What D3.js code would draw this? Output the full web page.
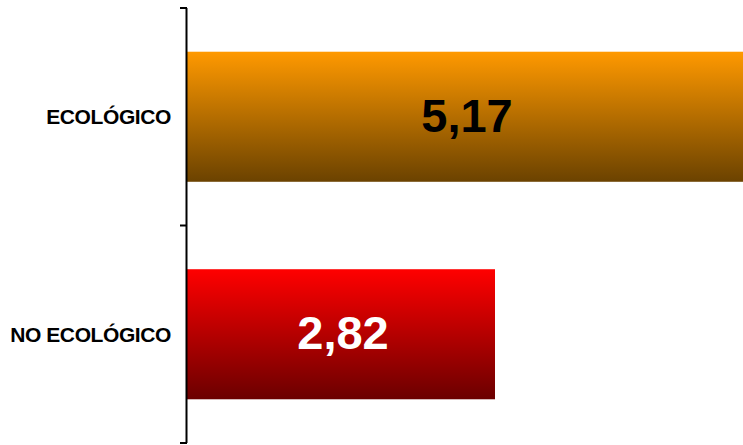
<!DOCTYPE html>
<html><head><meta charset="utf-8">
<script src="https://cdn.jsdelivr.net/npm/d3@7"></script>
<style>
html,body{margin:0;padding:0;background:#fff;overflow:hidden;}
svg{display:block;}
</style></head>
<body>
<svg id="chart" width="743" height="445"></svg>
<script>
const categories = ["ECOLÓGICO", "NO ECOLÓGICO"];
const values = [5.17, 2.82];
const valueLabels = ["5,17", "2,82"];
const topColors = ["#FF9900", "#FF0000"];
const bottomColors = ["#6B4200", "#6B0000"];
const labelColors = ["#000000", "#FFFFFF"];

const W = 743, H = 445;
const x0 = 187;
const svg = d3.select("#chart");
const x = d3.scaleLinear().domain([0, 6]).range([x0, x0 + 6 * (308 / 2.82)]);
const y = d3.scaleBand().domain(categories).range([8, 443]).paddingInner(0.402).paddingOuter(0.201);

const defs = svg.append("defs");
categories.forEach((c, i) => {
  const g = defs.append("linearGradient").attr("id", "g" + i)
    .attr("x1", 0).attr("y1", 0).attr("x2", 0).attr("y2", 1);
  g.append("stop").attr("offset", "0%").attr("stop-color", topColors[i]);
  g.append("stop").attr("offset", "100%").attr("stop-color", bottomColors[i]);
});

svg.selectAll("rect.bar").data(categories).join("rect")
  .attr("class", "bar")
  .attr("x", x(0))
  .attr("y", d => y(d))
  .attr("width", (d, i) => x(values[i]) - x(0))
  .attr("height", y.bandwidth())
  .attr("fill", (d, i) => `url(#g${i})`);

svg.selectAll("text.val").data(categories).join("text")
  .attr("class", "val")
  .attr("x", (d, i) => (x(0) + Math.min(x(values[i]), W)) / 2 + 2)
  .attr("y", d => y(d) + y.bandwidth() / 2 - 2)
  .attr("dy", "0.36em")
  .attr("text-anchor", "middle")
  .attr("font-family", "Liberation Sans, Arial, sans-serif")
  .attr("font-weight", "bold")
  .attr("font-size", 47)
  .attr("fill", (d, i) => labelColors[i])
  .text((d, i) => valueLabels[i]);

// axis with ticks at band boundaries
const tickYs = [8, 8 + 435 / 2, 443];
const ax = svg.append("g");
ax.append("line").attr("x1", x0 - 0.5).attr("x2", x0 - 0.5).attr("y1", 8).attr("y2", 443)
  .attr("stroke", "#000").attr("stroke-width", 2);
ax.selectAll("line.tick").data(tickYs).join("line").attr("class", "tick")
  .attr("x1", x0 - 7).attr("x2", x0).attr("y1", d => d).attr("y2", d => d)
  .attr("stroke", "#000").attr("stroke-width", 2);

svg.selectAll("text.cat").data(categories).join("text")
  .attr("class", "cat")
  .attr("x", 171)
  .attr("y", d => y(d) + y.bandwidth() / 2)
  .attr("dy", "0.36em")
  .attr("text-anchor", "end")
  .attr("font-family", "Liberation Sans, Arial, sans-serif")
  .attr("font-weight", "bold")
  .attr("font-size", 21)
  .attr("letter-spacing", "-0.4")
  .attr("fill", "#000")
  .text(d => d);
</script>
</body></html>
